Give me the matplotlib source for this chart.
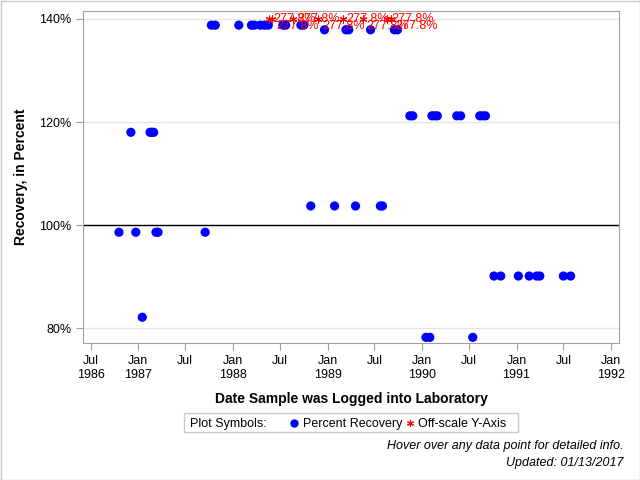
import datetime as dt
import matplotlib
matplotlib.use('agg')
import matplotlib.pyplot as plt
import matplotlib.dates as mdates
from matplotlib.lines import Line2D
from matplotlib.patches import Rectangle
from matplotlib.ticker import FuncFormatter

plt.rcParams['font.family'] = ['Liberation Sans', 'DejaVu Sans']

# percent recovery by log date (grouped by value level)
lvl_986 = ['1986-10-18', '1986-12-22', '1987-03-10', '1987-03-18', '1987-09-16']
lvl_1180 = ['1986-12-03', '1987-02-15', '1987-02-22', '1987-03-01']
lvl_821 = ['1987-01-16']
lvl_1388 = ['1987-10-10', '1987-10-25', '1988-01-24', '1988-03-13', '1988-03-24',
            '1988-04-16', '1988-05-02', '1988-05-17', '1988-07-12', '1988-07-23',
            '1988-09-20', '1988-10-01']
lvl_1379 = ['1988-12-20', '1989-03-13', '1989-03-24', '1989-06-16', '1989-09-16',
            '1989-09-28']
lvl_1037 = ['1988-10-28', '1989-01-28', '1989-04-19', '1989-07-24', '1989-08-01']
lvl_1212 = ['1989-11-15', '1989-11-26', '1990-02-08', '1990-02-19', '1990-03-01',
            '1990-05-15', '1990-05-30', '1990-08-12', '1990-08-23', '1990-09-03']
lvl_901 = ['1990-10-06', '1990-11-01', '1991-01-08', '1991-02-19', '1991-03-20',
           '1991-04-01', '1991-07-01', '1991-07-29']
lvl_782 = ['1990-01-16', '1990-01-31', '1990-07-16']

levels = [(98.6, lvl_986), (118.0, lvl_1180), (82.1, lvl_821), (138.8, lvl_1388),
          (137.9, lvl_1379), (103.7, lvl_1037), (121.2, lvl_1212), (90.1, lvl_901),
          (78.2, lvl_782)]

# off-scale samples (actual value above the axis max)
off_dates = ['1988-05-19', '1988-05-31', '1988-08-20', '1988-11-24',
             '1989-02-28', '1989-05-16', '1989-08-20', '1989-09-04']
off_value = 277.8
off_label_pos = ['up', 'down', 'up', 'down', 'up', 'down', 'up', 'down']

y_max = 140
first_tick = dt.datetime(1986, 7, 1)


def to_date(s):
    return dt.datetime.strptime(s, '%Y-%m-%d')


def date_fmt(x, pos):
    d = mdates.num2date(x)
    if d.month == 1 or (d.year == first_tick.year and d.month == first_tick.month):
        return d.strftime('%b\n%Y')
    return d.strftime('%b\n ')


fig = plt.figure(figsize=(6.4, 4.8), dpi=100)
ax = fig.add_axes([83 / 640, 1 - 343 / 480, 536 / 640, 332 / 480])

xs, ys = [], []
for val, dates in levels:
    for s in dates:
        xs.append(to_date(s))
        ys.append(val)
ax.scatter(xs, ys, s=44, color='#0000ff', edgecolors='none', zorder=3)

ox = [to_date(s) for s in off_dates]
ax.scatter(ox, [y_max] * len(ox), marker=(6, 2, 0), s=26, color='red',
           linewidths=0.8, zorder=4)
for x, pos in zip(ox, off_label_pos):
    dy = 0 if pos == 'up' else -5
    ax.annotate('%.1f%%' % off_value, (x, y_max), xytext=(3, dy),
                textcoords='offset points', ha='left', va='center',
                color='red', fontsize=9, zorder=5)

ax.axhline(100, color='black', lw=1, zorder=2)

ax.set_ylim(77.1, 141.55)
ax.set_yticks([80, 100, 120, 140])
ax.set_yticklabels(['%d%%' % v for v in [80, 100, 120, 140]])
ax.yaxis.grid(True, color='#e4e4e4', lw=1)
ax.set_axisbelow(True)

ax.set_xlim(dt.datetime(1986, 6, 1), dt.datetime(1992, 2, 1))
ax.xaxis.set_major_locator(mdates.MonthLocator(bymonth=[1, 7]))
ax.xaxis.set_major_formatter(FuncFormatter(date_fmt))

for sp in ax.spines.values():
    sp.set_color('#a0a0a0')
ax.tick_params(colors='#a0a0a0', labelcolor='black', labelsize=9, length=5)

ax.set_ylabel('Recovery, in Percent', fontsize=10, fontweight='bold', labelpad=8)
ax.set_xlabel('Date Sample was Logged into Laboratory', fontsize=10,
              fontweight='bold', labelpad=8)

# legend box drawn by hand
fig.add_artist(Rectangle((184 / 640, 1 - 432 / 480), 334 / 640, 19 / 480,
                         transform=fig.transFigure, fill=False,
                         edgecolor='#c8c8c8', lw=1))
ly = 1 - 422.5 / 480
fig.text(190 / 640, ly, 'Plot Symbols:', fontsize=9, va='center_baseline')
fig.add_artist(Line2D([294 / 640], [ly], transform=fig.transFigure, marker='o',
                      ms=6, color='#0000ff', mec='none', ls='none'))
fig.text(303 / 640, ly, 'Percent Recovery', fontsize=9, va='center_baseline')
fig.add_artist(Line2D([410 / 640], [ly], transform=fig.transFigure,
                      marker=(6, 2, 0), ms=5, color='red', mew=0.8, ls='none'))
fig.text(418 / 640, ly, 'Off-scale Y-Axis', fontsize=9, va='center_baseline')

fig.text(624 / 640, 1 - 446 / 480, 'Hover over any data point for detailed info.',
         fontsize=9, style='italic', ha='right', va='center')
fig.text(624 / 640, 1 - 463 / 480, 'Updated: 01/13/2017',
         fontsize=9, style='italic', ha='right', va='center')

# outer border
fig.add_artist(Rectangle((0.5 / 640, 0.5 / 480), 639 / 640, 479 / 480,
                         transform=fig.transFigure, fill=False,
                         edgecolor='#c8c8c8', lw=1))

fig.savefig('out.png', dpi=100)
